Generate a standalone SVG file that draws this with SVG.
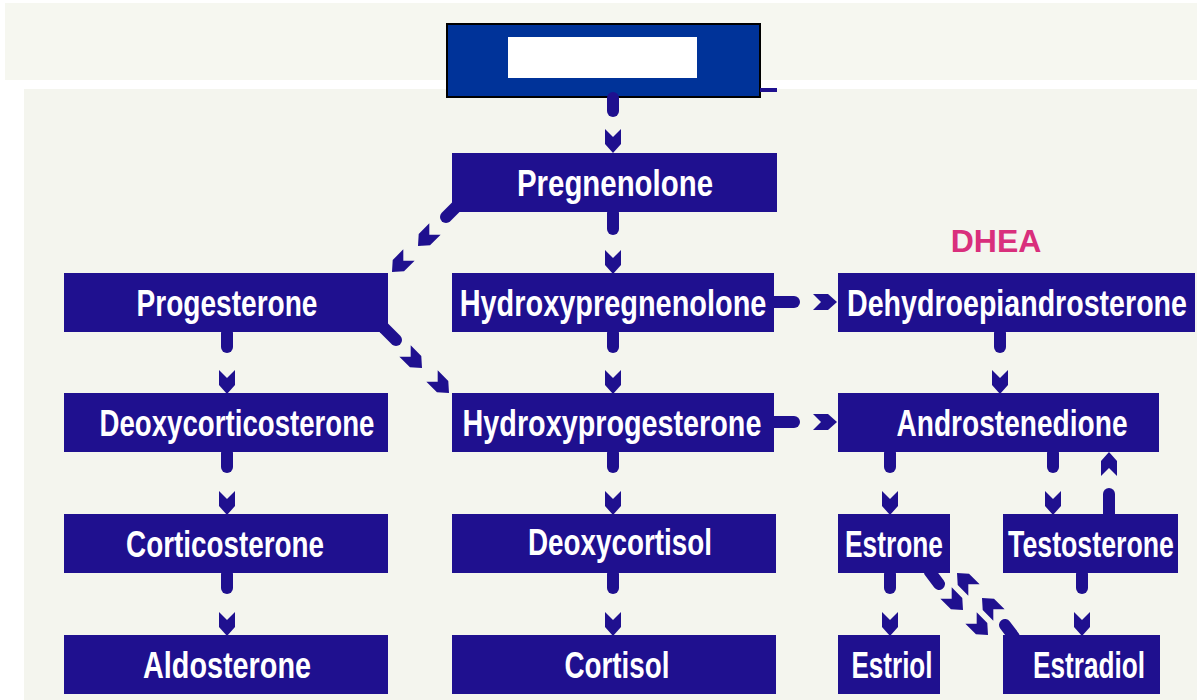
<svg xmlns="http://www.w3.org/2000/svg" xmlns:xlink="http://www.w3.org/1999/xlink" width="1197" height="700" viewBox="0 0 1197 700">
<style>
.box{fill:#1f108f}
.lbl{fill:#ffffff;font-family:"Liberation Sans",Arial,sans-serif;font-weight:bold;font-size:35px;text-anchor:middle}
.stem{stroke:#1f108f;stroke-width:12;stroke-linecap:round;fill:none}
.chev{fill:#1f108f}
</style>
<defs>
<path id="chev" d="M-8,-24 L0,-16 L8,-24 L8,-9 L0,0 L-8,-9 Z"/>
</defs>
<rect x="0" y="0" width="1197" height="700" fill="#ffffff"/>
<rect x="5" y="3" width="1192" height="77" fill="#f6f7f0"/>
<rect x="24" y="89" width="1173" height="611" fill="#f4f5ee"/>

<g id="header">
<rect x="447" y="24" width="313" height="73" fill="#003399" stroke="#000000" stroke-width="2"/>
<rect x="508" y="37" width="189" height="41" fill="#ffffff"/>
<rect x="760" y="88" width="17" height="4" fill="#1f108f"/>
</g>

<g id="connectors">
<g class="stem">
<line x1="613" y1="98" x2="613" y2="111"/>
<line x1="613" y1="213" x2="613" y2="229"/>
<line x1="458" y1="205" x2="446" y2="217"/>
<line x1="384" y1="328" x2="396" y2="340"/>
<line x1="227" y1="333" x2="227" y2="347"/>
<line x1="227" y1="453" x2="227" y2="467"/>
<line x1="227" y1="574" x2="227" y2="588"/>
<line x1="613" y1="333" x2="613" y2="347"/>
<line x1="613" y1="453" x2="613" y2="467"/>
<line x1="613" y1="574" x2="613" y2="588"/>
<line x1="773" y1="302" x2="794" y2="302"/>
<line x1="773" y1="422" x2="794" y2="422"/>
<line x1="1000" y1="333" x2="1000" y2="347"/>
<line x1="890" y1="453" x2="890" y2="467"/>
<line x1="1053" y1="453" x2="1053" y2="467"/>
<line x1="1109" y1="514" x2="1109" y2="494"/>
<line x1="890" y1="574" x2="890" y2="588"/>
<line x1="1082" y1="574" x2="1082" y2="588"/>
<line x1="930" y1="572" x2="939" y2="584"/>
<line x1="1014" y1="637" x2="1005" y2="625"/>
</g>
<g class="chev">
<use xlink:href="#chev" transform="translate(613,153)"/>
<use xlink:href="#chev" transform="translate(613,274)"/>
<use xlink:href="#chev" transform="translate(418,246) rotate(45)"/>
<use xlink:href="#chev" transform="translate(392,272) rotate(45)"/>
<use xlink:href="#chev" transform="translate(422,368) rotate(-45)"/>
<use xlink:href="#chev" transform="translate(449,393) rotate(-45)"/>
<use xlink:href="#chev" transform="translate(227,394)"/>
<use xlink:href="#chev" transform="translate(227,515)"/>
<use xlink:href="#chev" transform="translate(227,636)"/>
<use xlink:href="#chev" transform="translate(613,394)"/>
<use xlink:href="#chev" transform="translate(613,515)"/>
<use xlink:href="#chev" transform="translate(613,636)"/>
<use xlink:href="#chev" transform="translate(837,302) rotate(-90)"/>
<use xlink:href="#chev" transform="translate(837,422) rotate(-90)"/>
<use xlink:href="#chev" transform="translate(1000,394)"/>
<use xlink:href="#chev" transform="translate(890,515)"/>
<use xlink:href="#chev" transform="translate(1053,515)"/>
<use xlink:href="#chev" transform="translate(1109,452) rotate(180)"/>
<use xlink:href="#chev" transform="translate(890,636)"/>
<use xlink:href="#chev" transform="translate(1082,636)"/>
<use xlink:href="#chev" transform="translate(963,610) rotate(-45)"/>
<use xlink:href="#chev" transform="translate(988,635) rotate(-45)"/>
<use xlink:href="#chev" transform="translate(982,598) rotate(135)"/>
<use xlink:href="#chev" transform="translate(957,573) rotate(135)"/>
</g>
</g>

<g id="pregnenolone"><rect class="box" x="452" y="153" width="325" height="59"/><text class="lbl" transform="translate(615,196) scale(0.84,1.06)">Pregnenolone</text></g>
<g id="progesterone"><rect class="box" x="64" y="273" width="324" height="59"/><text class="lbl" transform="translate(227,316) scale(0.802,1.06)">Progesterone</text></g>
<g id="hydroxypregnenolone"><rect class="box" x="452" y="273" width="322" height="59"/><text class="lbl" transform="translate(613,316) scale(0.826,1.06)">Hydroxypregnenolone</text></g>
<g id="dhea-label"><text x="996" y="252" fill="#d92f7c" font-family="Liberation Sans, Arial, sans-serif" font-weight="bold" font-size="32" text-anchor="middle">DHEA</text></g>
<g id="dehydroepiandrosterone"><rect class="box" x="838" y="273" width="357" height="59"/><text class="lbl" transform="translate(1017,316) scale(0.817,1.06)">Dehydroepiandrosterone</text></g>
<g id="deoxycorticosterone"><rect class="box" x="64" y="393" width="324" height="59"/><text class="lbl" transform="translate(237,436) scale(0.79,1.06)">Deoxycorticosterone</text></g>
<g id="hydroxyprogesterone"><rect class="box" x="452" y="393" width="322" height="59"/><text class="lbl" transform="translate(612,436) scale(0.822,1.06)">Hydroxyprogesterone</text></g>
<g id="androstenedione"><rect class="box" x="838" y="393" width="321" height="59"/><text class="lbl" transform="translate(1012,436) scale(0.803,1.06)">Androstenedione</text></g>
<g id="corticosterone"><rect class="box" x="64" y="514" width="324" height="59"/><text class="lbl" transform="translate(225,557) scale(0.795,1.06)">Corticosterone</text></g>
<g id="deoxycortisol"><rect class="box" x="452" y="514" width="324" height="59"/><text class="lbl" transform="translate(620,555) scale(0.795,1.06)">Deoxycortisol</text></g>
<g id="estrone"><rect class="box" x="838" y="514" width="112" height="59"/><text class="lbl" transform="translate(894,557) scale(0.752,1.06)">Estrone</text></g>
<g id="testosterone"><rect class="box" x="1003" y="514" width="175" height="59"/><text class="lbl" transform="translate(1091,557) scale(0.764,1.06)">Testosterone</text></g>
<g id="aldosterone"><rect class="box" x="64" y="635" width="324" height="59"/><text class="lbl" transform="translate(227,678) scale(0.823,1.06)">Aldosterone</text></g>
<g id="cortisol"><rect class="box" x="452" y="635" width="324" height="59"/><text class="lbl" transform="translate(617,678) scale(0.794,1.06)">Cortisol</text></g>
<g id="estriol"><rect class="box" x="838" y="635" width="102" height="59"/><text class="lbl" transform="translate(892,678) scale(0.744,1.06)">Estriol</text></g>
<g id="estradiol"><rect class="box" x="1003" y="635" width="157" height="59"/><text class="lbl" transform="translate(1089,678) scale(0.748,1.06)">Estradiol</text></g>
</svg>
